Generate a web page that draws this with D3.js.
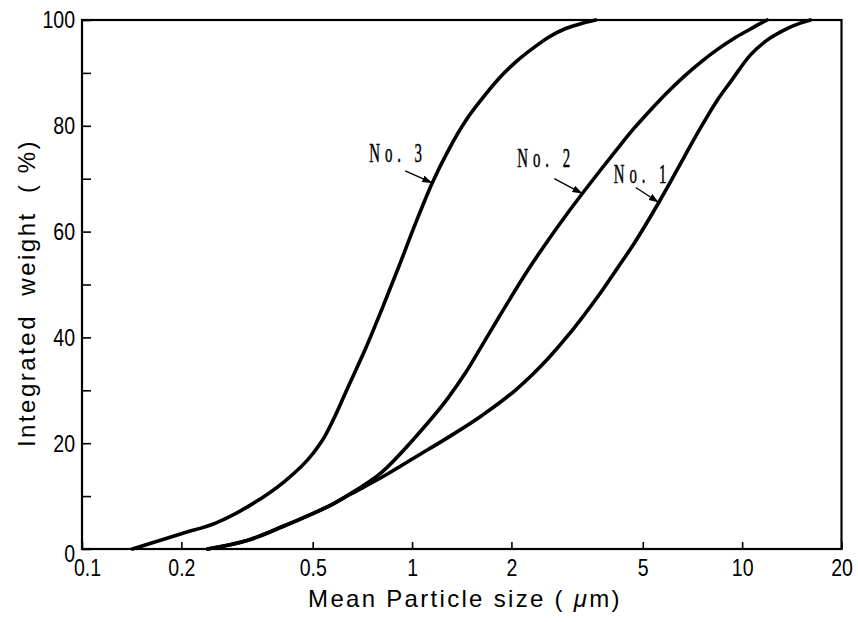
<!DOCTYPE html>
<html>
<head>
<meta charset="utf-8">
<script src="https://cdn.jsdelivr.net/npm/d3@7"></script>
<style>
  html, body { margin: 0; padding: 0; background: #fff; }
  svg { display: block; }
</style>
</head>
<body>
<svg id="chart" width="858" height="622"></svg>
<script>
// Cumulative particle-size distributions (integrated weight, %) of three powders.
const sizeNo3   = [0.142, 0.2, 0.254, 0.32, 0.404, 0.5, 0.545, 0.586, 0.644, 0.723, 0.812, 0.912, 1.025, 1.151, 1.294, 1.455, 1.633, 1.836, 2.063, 2.315, 2.6, 2.92, 3.28, 3.6];
const weightNo3 = [0, 2.9, 4.9, 8.1, 12.4, 18.0, 21.4, 25.3, 31.0, 37.9, 45.5, 53.4, 61.6, 69.2, 75.6, 81.0, 85.2, 89.0, 92.1, 94.6, 96.8, 98.4, 99.4, 100];

const sizeNo2   = [0.24, 0.32, 0.404, 0.5, 0.56, 0.644, 0.812, 1.025, 1.294, 1.455, 1.633, 1.836, 2.063, 2.315, 2.6, 2.92, 3.28, 3.72, 4.18, 4.7, 5.28, 5.93, 6.66, 7.48, 8.4, 9.44, 10.6, 11.4, 11.9];
const weightNo2 = [0, 1.7, 4.2, 6.7, 8.1, 10.3, 14.6, 21.2, 28.8, 33.4, 38.6, 43.9, 49.1, 54.0, 58.6, 63.0, 67.2, 71.6, 75.6, 79.5, 83.0, 86.3, 89.3, 92.0, 94.4, 96.5, 98.3, 99.4, 100];

const sizeNo1   = [0.24, 0.32, 0.404, 0.5, 0.56, 0.644, 0.812, 1.025, 1.294, 1.633, 2.063, 2.3, 2.6, 2.99, 3.28, 3.72, 4.18, 4.7, 5.59, 5.93, 6.66, 7.48, 8.4, 9.22, 10.6, 11.9, 13.4, 15.0, 16.1];
const weightNo1 = [0, 1.7, 4.2, 6.7, 8.1, 10.2, 13.6, 17.4, 21.2, 25.3, 30.1, 32.8, 36.2, 40.6, 43.8, 48.4, 53.0, 57.7, 65.5, 68.3, 74.0, 79.6, 84.8, 88.3, 93.4, 96.2, 98.1, 99.4, 100];

const seriesNames = ["No. 3", "No. 2", "No. 1"];

// Axis ticks
const xTickValues = [0.1, 0.2, 0.5, 1, 2, 5, 10, 20];
const xTickLabels = ["0.1", "0.2", "0.5", "1", "2", "5", "10", "20"];
const yTickValues = [0, 10, 20, 30, 40, 50, 60, 70, 80, 90, 100];
const yTickLabels = ["0", "", "20", "", "40", "", "60", "", "80", "", "100"];

// Callout arrows: the point on each curve they point to
const calloutSize   = [1.151, 3.28, 5.59];
const calloutWeight = [69.2, 67.2, 65.5];

const svg = d3.select("#chart");
const W = 858, H = 622;
const margin = { left: 82, right: 16.5, top: 20, bottom: 73 };

const x = d3.scaleLog().domain([0.1, 20]).range([margin.left, W - margin.right]);
const y = d3.scaleLinear().domain([0, 100]).range([H - margin.bottom, margin.top]);

const tickFont = "'Liberation Sans', Arial, sans-serif";
const narrow = 0.85;

// Arrow head marker
svg.append("defs").append("marker")
  .attr("id", "head")
  .attr("viewBox", "0 0 10 7")
  .attr("refX", 10).attr("refY", 3.5)
  .attr("markerWidth", 10).attr("markerHeight", 7)
  .attr("markerUnits", "userSpaceOnUse")
  .attr("orient", "auto")
  .append("path").attr("d", "M0,0 L10,3.5 L0,7 Z").attr("fill", "#000");

// Bottom axis (ticks point into the plot)
const xAxis = d3.axisBottom(x)
  .tickValues(xTickValues)
  .tickFormat((d, i) => xTickLabels[i])
  .tickSizeInner(-7).tickSizeOuter(0);
const gx = svg.append("g")
  .attr("transform", `translate(0,${y(0)})`)
  .call(xAxis);
gx.select(".domain").remove();
gx.selectAll(".tick line").attr("stroke", "#000").attr("stroke-width", 1.6);
gx.selectAll(".tick text")
  .attr("font-family", tickFont).attr("font-size", 23).attr("fill", "#000")
  .attr("transform", `scale(${narrow},1)`)
  .attr("dy", null)
  .attr("y", 27)
  .attr("x", d => (d === 0.1 ? 5 : 0) / narrow);

// Left axis
const yAxis = d3.axisLeft(y)
  .tickValues(yTickValues)
  .tickFormat((d, i) => yTickLabels[i])
  .tickSizeInner(-9).tickSizeOuter(0);
const gy = svg.append("g")
  .attr("transform", `translate(${x(0.1)},0)`)
  .call(yAxis);
gy.select(".domain").remove();
gy.selectAll(".tick line").attr("stroke", "#000").attr("stroke-width", 1.6);
gy.selectAll(".tick text")
  .attr("font-family", tickFont).attr("font-size", 23).attr("fill", "#000")
  .attr("transform", `scale(${narrow},1)`)
  .attr("x", -7 / narrow)
  .attr("dy", d => d === 0 ? "0.55em" : "0.34em");

// Plot frame
svg.append("rect")
  .attr("x", x(0.1)).attr("y", y(100))
  .attr("width", x(20) - x(0.1)).attr("height", y(0) - y(100))
  .attr("fill", "none").attr("stroke", "#000").attr("stroke-width", 2.2);

// Curves
const series = [
  { size: sizeNo3, weight: weightNo3 },
  { size: sizeNo2, weight: weightNo2 },
  { size: sizeNo1, weight: weightNo1 }
];
const line = d3.line()
  .x(d => x(d[0]))
  .y(d => y(d[1]))
  .curve(d3.curveMonotoneX);
svg.append("g").selectAll("path")
  .data(series)
  .join("path")
  .attr("d", s => line(s.size.map((v, i) => [v, s.weight[i]])))
  .attr("fill", "none")
  .attr("stroke", "#000")
  .attr("stroke-width", 3.6)
  .attr("stroke-linejoin", "round")
  .attr("stroke-linecap", "round");

// Curve callouts: label plus a short arrow onto the curve
const tailOffset = [[-27, -12], [-28, -15], [-23, -15]];
const textOffset = [[-63, -21], [-65, -27], [-45, -20]];
const callouts = svg.append("g");
seriesNames.forEach((name, i) => {
  const tx = x(calloutSize[i]), ty = y(calloutWeight[i]);
  callouts.append("line")
    .attr("x1", tx + tailOffset[i][0]).attr("y1", ty + tailOffset[i][1])
    .attr("x2", tx).attr("y2", ty)
    .attr("stroke", "#000").attr("stroke-width", 1.4)
    .attr("marker-end", "url(#head)");
  const lx = tx + textOffset[i][0], ly = ty + textOffset[i][1];
  callouts.append("text")
    .attr("transform", `translate(${lx},${ly}) scale(0.55,1)`)
    .attr("font-family", "'Liberation Serif', 'Times New Roman', serif")
    .attr("font-size", 27)
    .attr("letter-spacing", 9)
    .attr("fill", "#000")
    .attr("stroke", "#000").attr("stroke-width", 0.5)
    .text(name);
});

// Axis titles
svg.append("text")
  .attr("x", 465).attr("y", 607)
  .attr("text-anchor", "middle")
  .attr("font-family", tickFont).attr("font-size", 24)
  .attr("letter-spacing", 2.3)
  .attr("fill", "#000")
  .call(t => {
    t.append("tspan").text("Mean Particle size ( ");
    t.append("tspan").attr("font-style", "italic").text("μ");
    t.append("tspan").text("m)");
  });

svg.append("text")
  .attr("transform", "translate(35,293) rotate(-90)")
  .attr("text-anchor", "middle")
  .attr("font-family", tickFont).attr("font-size", 24)
  .attr("letter-spacing", 2.5)
  .attr("fill", "#000")
  .attr("xml:space", "preserve")
  .style("white-space", "pre")
  .text("Integrated  weight  ( %)");
</script>
</body>
</html>
